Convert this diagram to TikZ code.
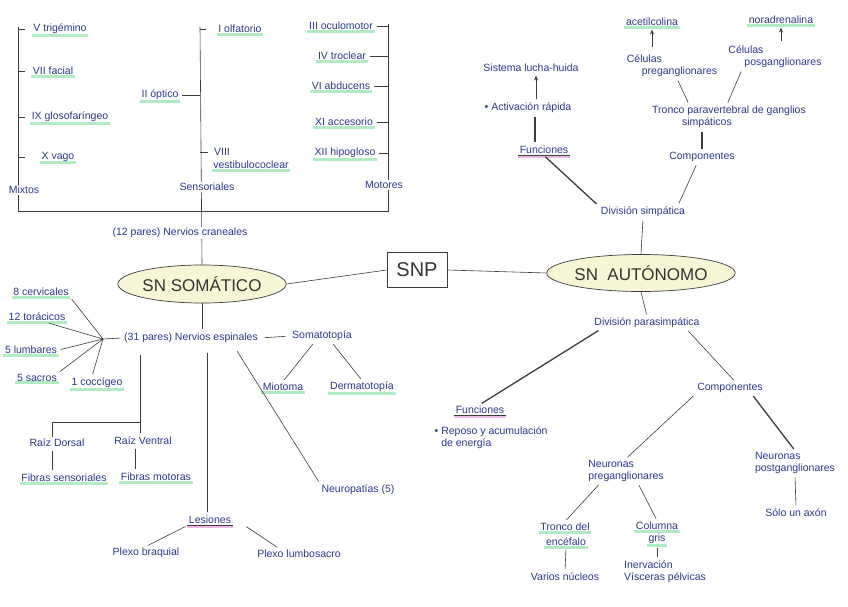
\documentclass[tikz,border=0pt]{standalone}
\usepackage{fontspec}
\setmainfont{Liberation Sans}
\usetikzlibrary{arrows.meta,shapes.geometric}
\definecolor{ink}{RGB}{45,56,138}
\definecolor{pen}{RGB}{60,60,60}
\definecolor{hlgreen}{RGB}{175,235,195}
\definecolor{hlpink}{RGB}{238,185,228}
\definecolor{ellfill}{RGB}{246,245,214}
\pgfdeclarelayer{hl}
\pgfdeclarelayer{ln}
\pgfsetlayers{hl,ln,main}
\begin{document}
\begin{tikzpicture}[x=1pt,y=-1pt,
  lbl/.style={text=ink,font=\fontsize{10.5}{12}\selectfont,inner sep=1.5pt},
  ln/.style={draw=pen,line width=0.6pt,shorten <=2pt,shorten >=2pt},
  thk/.style={ln,line width=1.3pt},
  arr/.style={ln,-{Stealth[length=5pt,width=4pt]}},
  ell/.style={ellipse,draw=pen,fill=ellfill,line width=0.7pt,font=\fontsize{17}{17}\selectfont,text=black!80,inner sep=0pt},
  hlg/.style={hlgreen,line width=3pt},
  hlp/.style={hlpink,line width=3.5pt}]
\useasboundingbox (0,0) rectangle (848,607);
\begin{pgfonlayer}{hl}
\fill[white] (0,0) rectangle (848,607);
\end{pgfonlayer}

% ---- cranial nerves ----
\node[lbl] (v) at (60,29) {V trigémino};
\node[lbl] (vii) at (53,71) {VII facial};
\node[lbl] (ix) at (70,117) {IX glosofaríngeo};
\node[lbl] (nx) at (58,157) {X vago};
\node[lbl,fill=white] (mix) at (24,190) {Mixtos};
\node[lbl] (i) at (240,29) {I olfatorio};
\node[lbl] (ii) at (160,95) {II óptico};
\node[lbl] (viii) at (222,152) {VIII};
\node[lbl] (vest) at (251,165) {vestibulococlear};
\node[lbl,fill=white] (sens) at (207,187) {Sensoriales};
\node[lbl] (iii) at (341,26) {III oculomotor};
\node[lbl] (iv) at (342,56) {IV troclear};
\node[lbl] (vi) at (341,86) {VI abducens};
\node[lbl] (xi) at (344,122) {XI accesorio};
\node[lbl] (xii) at (345,153) {XII hipogloso};
\node[lbl,fill=white] (mot) at (384,185) {Motores};
\node[lbl,fill=white] (cran) at (180,233) {(12 pares) Nervios craneales};
\coordinate (mxT) at (18,27);
\coordinate (mxB) at (18,211);
\coordinate (sT) at (200,27);
\coordinate (mT) at (388,24);
\coordinate (mB) at (388,211);

% ---- centre ----
\node[ell,minimum width=162pt,minimum height=38pt] (soma) at (202,284) {SN SOMÁTICO};
\node[ell,minimum width=172pt,minimum height=37pt] (auto) at (641,273) {SN\ \ AUTÓNOMO};
\node[draw=pen,line width=0.7pt,minimum width=60pt,minimum height=35pt,font=\fontsize{20}{20}\selectfont,text=black!80,inner sep=0pt] (snp) at (417,270) {SNP};

% ---- sympathetic ----
\node[lbl] (acet) at (652,22) {acetilcolina};
\node[lbl] (norad) at (781,20) {noradrenalina};
\node[lbl,align=left] (celpre) at (672,66) {Células\\\hspace*{15pt}preganglionares};
\node[lbl,align=left] (celpos) at (775,57) {Células\\\hspace*{16pt}posganglionares};
\node[lbl,align=left] (tron) at (729,117) {Tronco paravertebral de ganglios\\\hspace*{30pt}simpáticos};
\node[lbl] (comp1) at (702,157) {Componentes};
\node[lbl] (sis) at (531,68) {Sistema lucha-huida};
\node[lbl] (act) at (528,108) {• Activación rápida};
\node[lbl] (fun1) at (544,150) {Funciones};
\node[lbl] (simp) at (643,212) {División simpática};

% ---- parasympathetic ----
\node[lbl] (para) at (647,323) {División parasimpática};
\node[lbl] (fun2) at (480,410) {Funciones};
\node[lbl,align=left,anchor=north west] (rep) at (433,425) {• Reposo y acumulación\\\phantom{• }de energía};
\node[lbl] (comp2) at (730,388) {Componentes};
\node[lbl,align=left] (npre) at (626,471) {Neuronas\\preganglionares};
\node[lbl,align=left] (npost) at (795,463) {Neuronas\\postganglionares};
\node[lbl] (solo) at (796,513) {Sólo un axón};
\node[lbl] (te1) at (565,527) {Tronco del};
\node[lbl] (te2) at (566,542) {encéfalo};
\node[lbl] (cg1) at (657,526) {Columna};
\node[lbl] (cg2) at (657,539) {gris};
\node[lbl] (varios) at (565,577) {Varios núcleos};
\node[lbl,align=left] (inerv) at (665,572) {Inervación\\Vísceras pélvicas};

% ---- spinal ----
\node[lbl] (esp) at (191,338) {(31 pares) Nervios espinales};
\node[lbl] (somato) at (322,336) {Somatotopía};
\node[lbl] (mio) at (283,387) {Miotoma};
\node[lbl] (derm) at (362,387) {Dermatotopía};
\node[lbl] (c8) at (41,292) {8 cervicales};
\node[lbl] (t12) at (37,317) {12 torácicos};
\node[lbl] (l5) at (31,350) {5 lumbares};
\node[lbl] (s5) at (37,378) {5 sacros};
\node[lbl] (co1) at (97,383) {1 coccígeo};
\coordinate (fan) at (103,339);
\coordinate (rj) at (140,422);
\node[lbl] (rd) at (57,443) {Raíz Dorsal};
\node[lbl] (rv) at (143,441) {Raíz Ventral};
\node[lbl] (fs) at (64,478) {Fibras sensoriales};
\node[lbl] (fm) at (156,477) {Fibras motoras};
\node[lbl] (les) at (210,520) {Lesiones};
\node[lbl] (pb) at (146,553) {Plexo braquial};
\node[lbl] (pl) at (299,554) {Plexo lumbosacro};
\node[lbl] (neuro) at (358,490) {Neuropatías (5)};

% ---- highlights ----
\begin{pgfonlayer}{hl}
\foreach \n in {v,vii,ix,nx,i,ii,vest,iii,iv,vi,xi,xii,acet,norad,c8,t12,l5,s5,co1,mio,derm,fs,fm,te1,te2,cg1,cg2}
  \draw[hlg] ([yshift=0.5pt]\n.south west) -- ([yshift=0.5pt]\n.south east);
\foreach \n in {fun1,fun2,les}
  \draw[hlp] ([yshift=-1pt]\n.south west) -- ([yshift=-1pt]\n.south east);
\end{pgfonlayer}

% ---- connectors ----
\begin{pgfonlayer}{ln}
\foreach \n in {fun1,fun2,les}
  \draw[pen,line width=0.9pt] ([yshift=0.5pt]\n.south west) -- ([yshift=0.5pt]\n.south east);
% brackets
\draw[pen,line width=0.6pt] (mxT) -- (mxB) -- (mB) -- (mT);
\foreach \n in {v,vii,ix,nx}
  \draw[pen,line width=0.6pt] (\n.west -| mxT) -- ++(7,0);
\foreach \n in {iii,iv,vi,xi,xii}
  \draw[pen,line width=0.6pt,shorten <=2pt] (\n.east) -- (\n.east -| mT);
\draw[pen,line width=0.6pt] (sT) -- (soma.north);
\draw[pen,line width=0.6pt] (i.west -| sT) -- ++(6,0);
\draw[pen,line width=0.6pt,shorten <=2pt] (ii.east) -- (ii.east -| sT);
\draw[pen,line width=0.6pt] (viii.west -| sT) -- ++(8,0);
% centre
\draw[ln,shorten <=0pt,shorten >=0pt] (soma.east) -- (snp.west);
\draw[ln,shorten <=0pt,shorten >=0pt] (snp.east) -- (auto.west);
% sympathetic
\draw[arr,shorten <=6pt] (acet.south |- celpre.north) -- (acet.south);
\draw[arr,shorten <=3pt] (norad.south |- celpos.north) -- (norad.south);
\draw[ln] ([xshift=5pt]celpre.south) -- ([xshift=-40pt]tron.north);
\draw[ln] ([xshift=-33pt]celpos.south) -- ([xshift=-2pt]tron.north);
\draw[thk] (comp1.north) -- (comp1.north |- tron.south);
\draw[ln] ([xshift=-5pt]comp1.south) -- ([xshift=35pt]simp.north);
\draw[thk] (fun1.south) -- ([xshift=-45pt]simp.north);
\draw[thk] ([xshift=-9pt]fun1.north) -- ([xshift=-9pt]fun1.north |- act.south);
\draw[arr] ([xshift=8pt]act.north) -- ([xshift=8pt]act.north |- sis.south);
\draw[ln,shorten >=0pt] (simp.south) -- (auto.north);
% parasympathetic
\draw[ln,shorten <=0pt] (auto.south) -- (para.north);
\draw[thk] ([xshift=-47pt]para.south) -- (fun2.north);
\draw[ln] ([xshift=40pt]para.south) -- ([xshift=5pt]comp2.north);
\draw[ln] ([xshift=-35pt]comp2.south) -- (npre.north);
\draw[thk] ([xshift=22pt]comp2.south) -- (npost.north);
\draw[ln] (npost.south) -- (solo.north);
\draw[ln] ([xshift=-26pt]npre.south) -- (te1.north);
\draw[ln] ([xshift=12pt]npre.south) -- (cg1.north);
\draw[ln] (te2.south) -- (varios.north);
\draw[ln] (cg2.south) -- (cg2.south |- inerv.north);
% spinal
\draw[ln,shorten <=0pt] (soma.south) -- (soma.south |- esp.north);
\draw[ln,shorten >=5pt,shorten <=5pt] (esp.east) -- (somato.west);
\draw[ln,shorten <=0pt] (fan) -- (esp.west);
\draw[ln,shorten >=0pt] (c8.south east) -- (fan);
\draw[ln,shorten >=0pt] ([xshift=10pt]t12.south) -- (fan);
\draw[ln,shorten >=0pt] (l5.east) -- (fan);
\draw[ln,shorten >=0pt] (s5.north east) -- (fan);
\draw[ln,shorten >=0pt] ([xshift=-5pt]co1.north) -- (fan);
\draw[ln,shorten <=10pt] (rj |- esp.south) -- (rj |- rv.north);
\draw[pen,line width=0.6pt] ([xshift=-5pt]rd.north) -- ([xshift=-5pt]rd.north |- rj) -- (rj);
\draw[ln] ([xshift=-5pt]rd.south) -- ([xshift=-5pt]rd.south |- fs.north);
\draw[ln] ([xshift=-8pt]rv.south) -- ([xshift=-8pt]rv.south |- fm.north);
\draw[ln,shorten <=8pt] ([xshift=-3pt]les.north |- esp.south) -- ([xshift=-3pt]les.north);
\draw[ln] (les.south west) -- (pb.north);
\draw[ln] ([xshift=12pt]les.south east) -- ([xshift=-20pt]pl.north);
\draw[ln,shorten <=8pt] ([xshift=42pt]esp.south) -- (neuro.north west);
\draw[ln] ([xshift=-8pt]somato.south) -- (mio.north);
\draw[ln] ([xshift=10pt]somato.south) -- (derm.north);
\end{pgfonlayer}
\end{tikzpicture}
\end{document}
